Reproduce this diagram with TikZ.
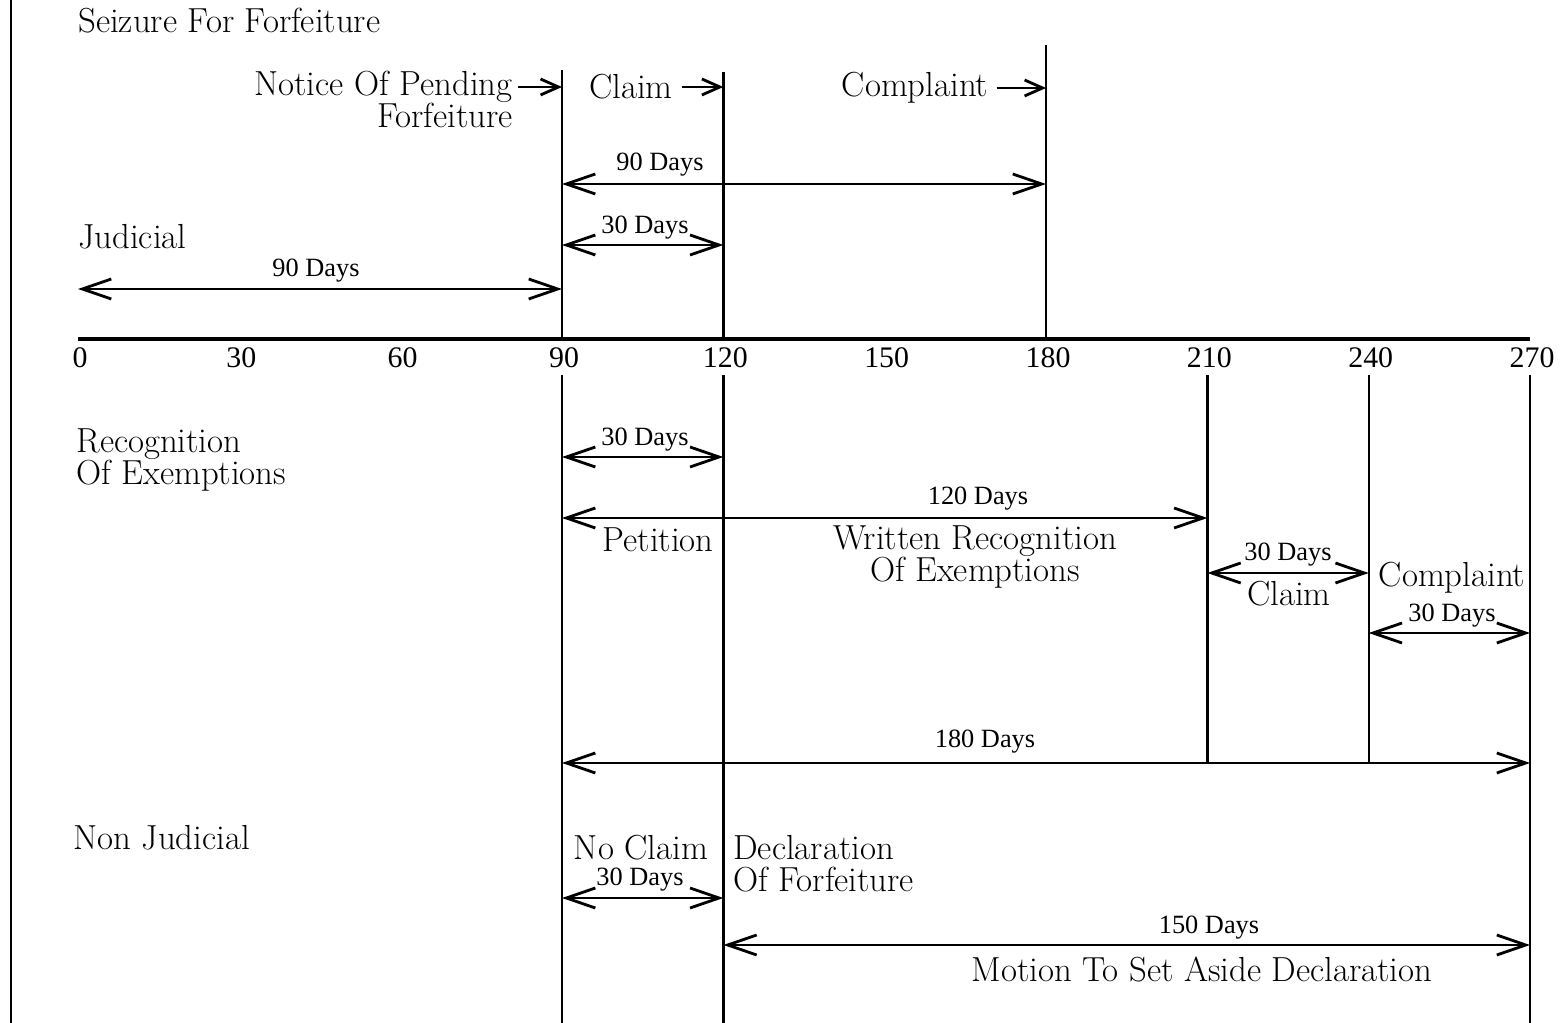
\documentclass[tikz,border=0pt]{standalone}
\usepackage{fontspec}
\newfontfamily\daysfont{Liberation Serif}
\usetikzlibrary{arrows.meta}
\tikzset{
  text-label/.style={font=\fontsize{19.8}{18.2}\selectfont,inner sep=0pt},
  text-days/.style={font=\daysfont\fontsize{15}{15}\selectfont,inner sep=0pt},
  text-tick/.style={font=\daysfont\fontsize{17}{17}\selectfont,inner sep=0pt},
  line-axis/.style={line width=2.6pt},
  line-day/.style={line width=1.4pt},
  line-border/.style={line width=0.8pt},
  arrow-span/.style={{Straight Barb[length=5.8mm,width=4mm]}-{Straight Barb[length=5.8mm,width=4mm]},line width=1.6pt},
  arrow-pointer/.style={-{Straight Barb[length=3.6mm,width=3.2mm]},line width=1.6pt},
}
\begin{document}
\begin{tikzpicture}[x=0.02cm,y=-0.02cm]
  \useasboundingbox (0,0) rectangle (1563,1023);
  \draw[line-border] (11,0) -- (11,1023);
  % time axis
  \foreach \d in {0,30,...,270}{
    \coordinate (a\d) at ({78+5.378*\d},339);
    \node[text-tick] (t\d) at ({80+5.378*\d},358) {\d};
  }
  \draw[line-axis] (a0) -- (a270);

  % judicial
  \draw[line-day] (a90) -- (a90 |- 0,70);
  \draw[line-day] (a120) -- (a120 |- 0,72);
  \draw[line-day] (a180) -- (a180 |- 0,45);
  \node[text-label,anchor=west] (seizure) at (78,21) {Seizure For Forfeiture};
  \node[text-label,align=right,anchor=east] (notice) at (513,99) {Notice Of Pending\\Forfeiture};
  \node[text-label] (claim-up) at (631,87) {Claim};
  \node[text-label] (complaint-up) at (915,88) {Complaint};
  \draw[arrow-pointer] ([xshift=1mm]notice.east |- claim-up) -- (a90 |- claim-up);
  \draw[arrow-pointer] ([xshift=1.8mm]claim-up.east) -- (a120 |- claim-up);
  \draw[arrow-pointer] ([xshift=1.6mm]complaint-up.east) -- (a180 |- complaint-up);
  \draw[arrow-span] (a90 |- 0,184) -- (a180 |- 0,184);
  \node[text-days] (d90-up) at (660,165) {90 Days};
  \draw[arrow-span] (a90 |- 0,245) -- (a120 |- 0,245);
  \node[text-days] (d30-up) at (645,228) {30 Days};
  \node[text-label,anchor=west] (judicial) at (78,237) {Judicial};
  \draw[arrow-span] (a0 |- 0,289) -- (a90 |- 0,289);
  \node[text-days] (d90-left) at (316,271) {90 Days};

  % recognition of exemptions
  \draw[line-day] (a90 |- 0,375) -- (a90 |- 0,1023);
  \draw[line-day] (a120 |- 0,375) -- (a120 |- 0,1023);
  \draw[line-day] (a210 |- 0,375) -- (a210 |- 0,763);
  \draw[line-day] (a240 |- 0,375) -- (a240 |- 0,763);
  \draw[line-day] (a270 |- 0,375) -- (a270 |- 0,1023);
  \node[text-label,align=left,anchor=west] (recognition) at (76,460) {Recognition\\Of Exemptions};
  \draw[arrow-span] (a90 |- 0,457) -- (a120 |- 0,457);
  \node[text-days] (d30-petition) at (645,440) {30 Days};
  \draw[arrow-span] (a90 |- 0,518) -- (a210 |- 0,518);
  \node[text-days] (d120) at (978,499) {120 Days};
  \node[text-label] (petition) at (658,540) {Petition};
  \node[text-label,align=center] (written) at (975,557) {Written Recognition\\Of Exemptions};
  \draw[arrow-span] (a210 |- 0,573) -- (a240 |- 0,573);
  \node[text-days] (d30-claim) at (1288,555) {30 Days};
  \node[text-label] (claim-low) at (1289,594) {Claim};
  \node[text-label] (complaint-low) at (1452,578) {Complaint};
  \draw[arrow-span] (a240 |- 0,633) -- (a270 |- 0,633);
  \node[text-days] (d30-complaint) at (1452,616) {30 Days};
  \draw[arrow-span] (a90 |- 0,763) -- (a270 |- 0,763);
  \node[text-days] (d180) at (985,742) {180 Days};

  % non judicial
  \node[text-label,anchor=west] (nonjudicial) at (73,838) {Non Judicial};
  \node[text-label] (noclaim) at (641,848) {No Claim};
  \draw[arrow-span] (a90 |- 0,898) -- (a120 |- 0,898);
  \node[text-days] (d30-noclaim) at (640,880) {30 Days};
  \node[text-label,align=left,anchor=west] (declaration) at (733,864) {Declaration\\Of Forfeiture};
  \draw[arrow-span] (a120 |- 0,945) -- (a270 |- 0,945);
  \node[text-days] (d150) at (1209,928) {150 Days};
  \node[text-label] (motion) at (1202,969) {Motion To Set Aside Declaration};
\end{tikzpicture}
\end{document}
